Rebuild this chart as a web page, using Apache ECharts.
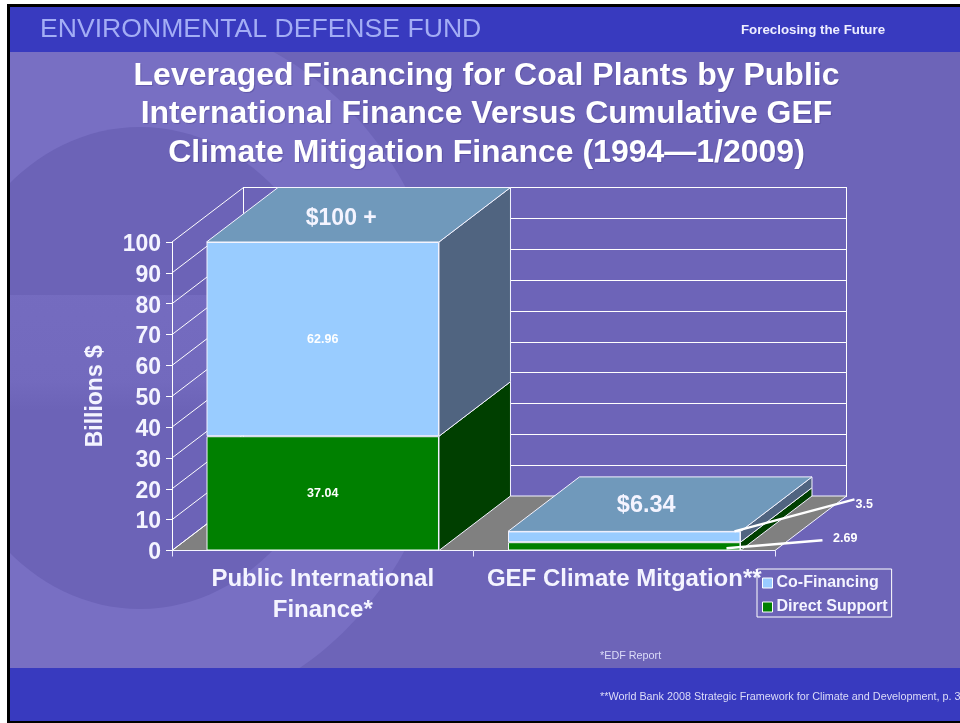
<!DOCTYPE html>
<html>
<head>
<meta charset="utf-8">
<style>html,body{margin:0;padding:0;background:#fff}#c{width:960px;height:723px}</style>
<script src="https://cdn.jsdelivr.net/npm/echarts@6/dist/echarts.min.js"></script>
</head>
<body>
<div id="c"></div>
<script>
const categories = ['Public International\nFinance*', 'GEF Climate Mitgation**'];
const directSupport = [37.04, 2.69];
const coFinancing = [62.96, 3.5];
const topLabels = ['$100 +', '$6.34'];
const yTicks = [0, 10, 20, 30, 40, 50, 60, 70, 80, 90, 100];

const DX = 71.5, DY = -54.5, BAR = 0.771;
const FONT = '"Liberation Sans", Arial, sans-serif';
const LINE = { stroke: '#fff', lineWidth: 1, fill: 'none' };
const chart = echarts.init(document.getElementById('c'), null, { renderer: 'canvas' });

function poly(points, fill) {
  return { type: 'polygon', shape: { points }, style: { fill, stroke: '#f4f4ff', lineWidth: 1 } };
}
function line(x1, y1, x2, y2, style) {
  return { type: 'line', shape: { x1, y1, x2, y2 }, style: style || LINE };
}

function renderFloor(params, api) {
  const c = params.coordSys;
  const y0 = api.coord([0, 0])[1], y1 = api.coord([0, 100])[1];
  const xl = c.x, xr = c.x + c.width;
  return { type: 'group', children: [
    poly([[xl, y0], [xl + DX, y0 + DY], [xr + DX, y0 + DY], [xr, y0]], '#808080'),
    line(xl + DX, y0 + DY, xl + DX, y1 + DY),
    line(xr + DX, y0 + DY, xr + DX, y1 + DY)
  ] };
}
function renderWall(params, api) {
  const x = params.coordSys.x, y = api.coord([0, api.value(1)])[1];
  return line(x, y, x + DX, y + DY);
}
function renderFaces(params, api) {
  const i = api.value(0), a = api.value(1), b = api.value(2);
  const w = api.size([1, 0])[0] * BAR, cx = api.coord([i, 0])[0];
  const l = cx - w / 2, r = cx + w / 2;
  const y0 = api.coord([i, 0])[1], y1 = api.coord([i, a])[1], y2 = api.coord([i, a + b])[1];
  return { type: 'group', children: [
    poly([[r, y0], [r + DX, y0 + DY], [r + DX, y1 + DY], [r, y1]], '#003f00'),
    poly([[r, y1], [r + DX, y1 + DY], [r + DX, y2 + DY], [r, y2]], '#506480'),
    poly([[l, y2], [l + DX, y2 + DY], [r + DX, y2 + DY], [r, y2]], '#7099bb'),
    { type: 'text', x: cx + (i ? 22 : 18.5), y: y2 - (i ? 26 : 23), style: {
      text: topLabels[i], fill: '#f4f4ff', font: 'bold ' + (i ? 23.5 : 23) + 'px ' + FONT, align: 'center', verticalAlign: 'middle' } }
  ] };
}
function renderLeaders(params, api) {
  const i = api.value(0), a = api.value(1), b = api.value(2);
  const w = api.size([1, 0])[0] * BAR, r = api.coord([i, 0])[0] + w / 2;
  const y1 = api.coord([i, a])[1], y2 = api.coord([i, a + b])[1];
  const st = { stroke: '#fff', lineWidth: 2.5, fill: 'none' };
  return { type: 'group', children: [
    line(r - 6, y2, r + 114, y2 - 32, st),
    line(r - 14, y1 + 6, r + 82, y1 - 2, st)
  ] };
}

chart.setOption({
  animation: false,
  backgroundColor: 'transparent',
  title: {
    text: 'Leveraged Financing for Coal Plants by Public\nInternational Finance Versus Cumulative GEF\nClimate Mitigation Finance (1994\u20141/2009)',
    left: 486.5, top: 56.5, textAlign: 'center', padding: 0,
    textStyle: { color: '#fff', fontFamily: FONT, fontWeight: 'bold', fontSize: 32, lineHeight: 38.5,
      textShadowColor: 'rgba(50,40,120,0.35)', textShadowOffsetX: 1, textShadowOffsetY: 1, textShadowBlur: 1 }
  },
  legend: {
    left: 757, top: 569, orient: 'vertical', data: ['Co-Financing', 'Direct Support'],
    icon: 'rect', itemWidth: 10, itemHeight: 10, itemGap: 8, padding: [6, 4, 2, 5],
    borderColor: '#fff', borderWidth: 1, selectedMode: false, z: 20,
    textStyle: { color: '#f4f4ff', fontFamily: FONT, fontWeight: 'bold', fontSize: 16, padding: [4, 0, 0, -1] },
    itemStyle: { borderColor: '#fff', borderWidth: 1 }
  },
  grid: [
    { left: 172, width: 603, top: 242, height: 308.5 },
    { left: 243, width: 604, top: 187.5, height: 308.5 }
  ],
  xAxis: [
    { type: 'category', gridIndex: 0, data: categories,
      axisLine: { show: true, lineStyle: { color: '#fff', width: 1 } },
      axisTick: { show: true, length: 6, lineStyle: { color: '#e8e8ff' } },
      axisLabel: { color: '#f4f4ff', fontFamily: FONT, fontWeight: 'bold', fontSize: 24, margin: 13, lineHeight: 31, interval: 0, hideOverlap: false } },
    { type: 'category', gridIndex: 1, data: categories, show: false }
  ],
  yAxis: [
    { type: 'value', gridIndex: 0, min: 0, max: 100, interval: 10,
      name: 'Billions $', nameLocation: 'middle', nameGap: 65, nameRotate: 90,
      nameTextStyle: { color: '#f4f4ff', fontFamily: FONT, fontWeight: 'bold', fontSize: 23 },
      axisLine: { show: true, lineStyle: { color: '#fff', width: 1 } },
      axisTick: { show: true, length: 6, lineStyle: { color: '#fff' } },
      axisLabel: { color: '#f4f4ff', fontFamily: FONT, fontWeight: 'bold', fontSize: 23, margin: 11, verticalAlign: 'top', lineHeight: 5, showMaxLabel: true, showMinLabel: true },
      splitLine: { show: false } },
    { type: 'value', gridIndex: 1, min: 0, max: 100, interval: 10,
      axisLine: { show: false }, axisTick: { show: false }, axisLabel: { show: false },
      splitLine: { show: true, lineStyle: { color: '#fff', width: 1 } } }
  ],
  series: [
    { type: 'custom', name: 'floor', z: 1, silent: true, data: [[0, 0]], renderItem: renderFloor, encode: { x: 0, y: 1 } },
    { type: 'custom', name: 'wall', z: 1, silent: true, data: yTicks.map(v => [0, v]), renderItem: renderWall, encode: { x: 0, y: 1 } },
    { type: 'custom', name: 'faces', z: 3, silent: true,
      data: categories.map((c, i) => [i, directSupport[i], coFinancing[i]]), renderItem: renderFaces, encode: { x: 0, y: 1 } },
    { type: 'bar', name: 'Direct Support', stack: 'total', barWidth: '77.1%', z: 4, silent: true,
      itemStyle: { color: '#008000', borderColor: '#f4f4ff', borderWidth: 1 },
      label: { show: true, position: 'inside', color: '#fff', fontFamily: FONT, fontWeight: 'bold', fontSize: 12.5 },
      data: directSupport.map((v, i) => i ? { value: v, label: { offset: [221, -8] } } : v) },
    { type: 'bar', name: 'Co-Financing', stack: 'total', barWidth: '77.1%', z: 4, silent: true,
      itemStyle: { color: '#99ccff', borderColor: '#f4f4ff', borderWidth: 1 },
      label: { show: true, position: 'inside', color: '#fff', fontFamily: FONT, fontWeight: 'bold', fontSize: 12.5 },
      data: coFinancing.map((v, i) => i ? { value: v, label: { offset: [240, -32] } } : v) },
    { type: 'custom', name: 'leaders', z: 5, silent: true,
      data: [[1, directSupport[1], coFinancing[1]]], renderItem: renderLeaders, encode: { x: 0, y: 1 } }
  ],
  graphic: [
    { type: 'rect', z: -10, silent: true, shape: { x: 10, y: 7, width: 950, height: 714 }, style: { fill: '#6d64b8' } },
    { type: 'ellipse', z: -9, silent: true, shape: { cx: 140, cy: 368, rx: 310, ry: 350 }, style: { fill: '#786fc3' } },
    { type: 'ellipse', z: -8, silent: true, shape: { cx: 140, cy: 368, rx: 203, ry: 241 }, style: { fill: '#6c63b7' } },
    { type: 'rect', z: -7, silent: true, shape: { x: 10, y: 295, width: 330, height: 115 }, style: {
      fill: new echarts.graphic.LinearGradient(0, 0, 0, 1, [
        { offset: 0, color: 'rgba(120,111,195,0.7)' }, { offset: 0.75, color: 'rgba(120,111,195,0.55)' }, { offset: 1, color: 'rgba(120,111,195,0)' }]) } },
    { type: 'rect', z: -5, silent: true, shape: { x: 10, y: 7, width: 950, height: 45 }, style: { fill: '#383abf' } },
    { type: 'rect', z: -5, silent: true, shape: { x: 10, y: 668, width: 950, height: 53 }, style: { fill: '#383abf' } },
    { type: 'rect', z: -4, silent: true, shape: { x: 0, y: 0, width: 960, height: 4 }, style: { fill: '#fff' } },
    { type: 'rect', z: -4, silent: true, shape: { x: 0, y: 0, width: 7, height: 723 }, style: { fill: '#fff' } },
    { type: 'rect', z: -4, silent: true, shape: { x: 7, y: 4, width: 3, height: 719 }, style: { fill: '#000' } },
    { type: 'rect', z: -4, silent: true, shape: { x: 7, y: 4, width: 953, height: 3 }, style: { fill: '#000' } },
    { type: 'rect', z: -4, silent: true, shape: { x: 7, y: 721, width: 953, height: 2 }, style: { fill: '#000' } },
    { type: 'text', z: 10, silent: true, x: 40, y: 30, style: { text: 'ENVIRONMENTAL DEFENSE FUND', fill: '#a3adf5', font: '26.6px ' + FONT, verticalAlign: 'middle' } },
    { type: 'text', z: 10, silent: true, x: 741, y: 30.5, style: { text: 'Foreclosing the Future', fill: '#eeeeff', font: 'bold 13.3px ' + FONT, verticalAlign: 'middle' } },
    { type: 'text', z: 10, silent: true, x: 600, y: 656, style: { text: '*EDF Report', fill: '#dcdcf8', font: '10.8px ' + FONT, verticalAlign: 'middle' } },
    { type: 'text', z: 10, silent: true, x: 600, y: 697, style: { text: '**World Bank 2008 Strategic Framework for Climate and Development, p. 34', fill: '#dcdcf8', font: '10.8px ' + FONT, verticalAlign: 'middle' } }
  ]
});
</script>
</body>
</html>
